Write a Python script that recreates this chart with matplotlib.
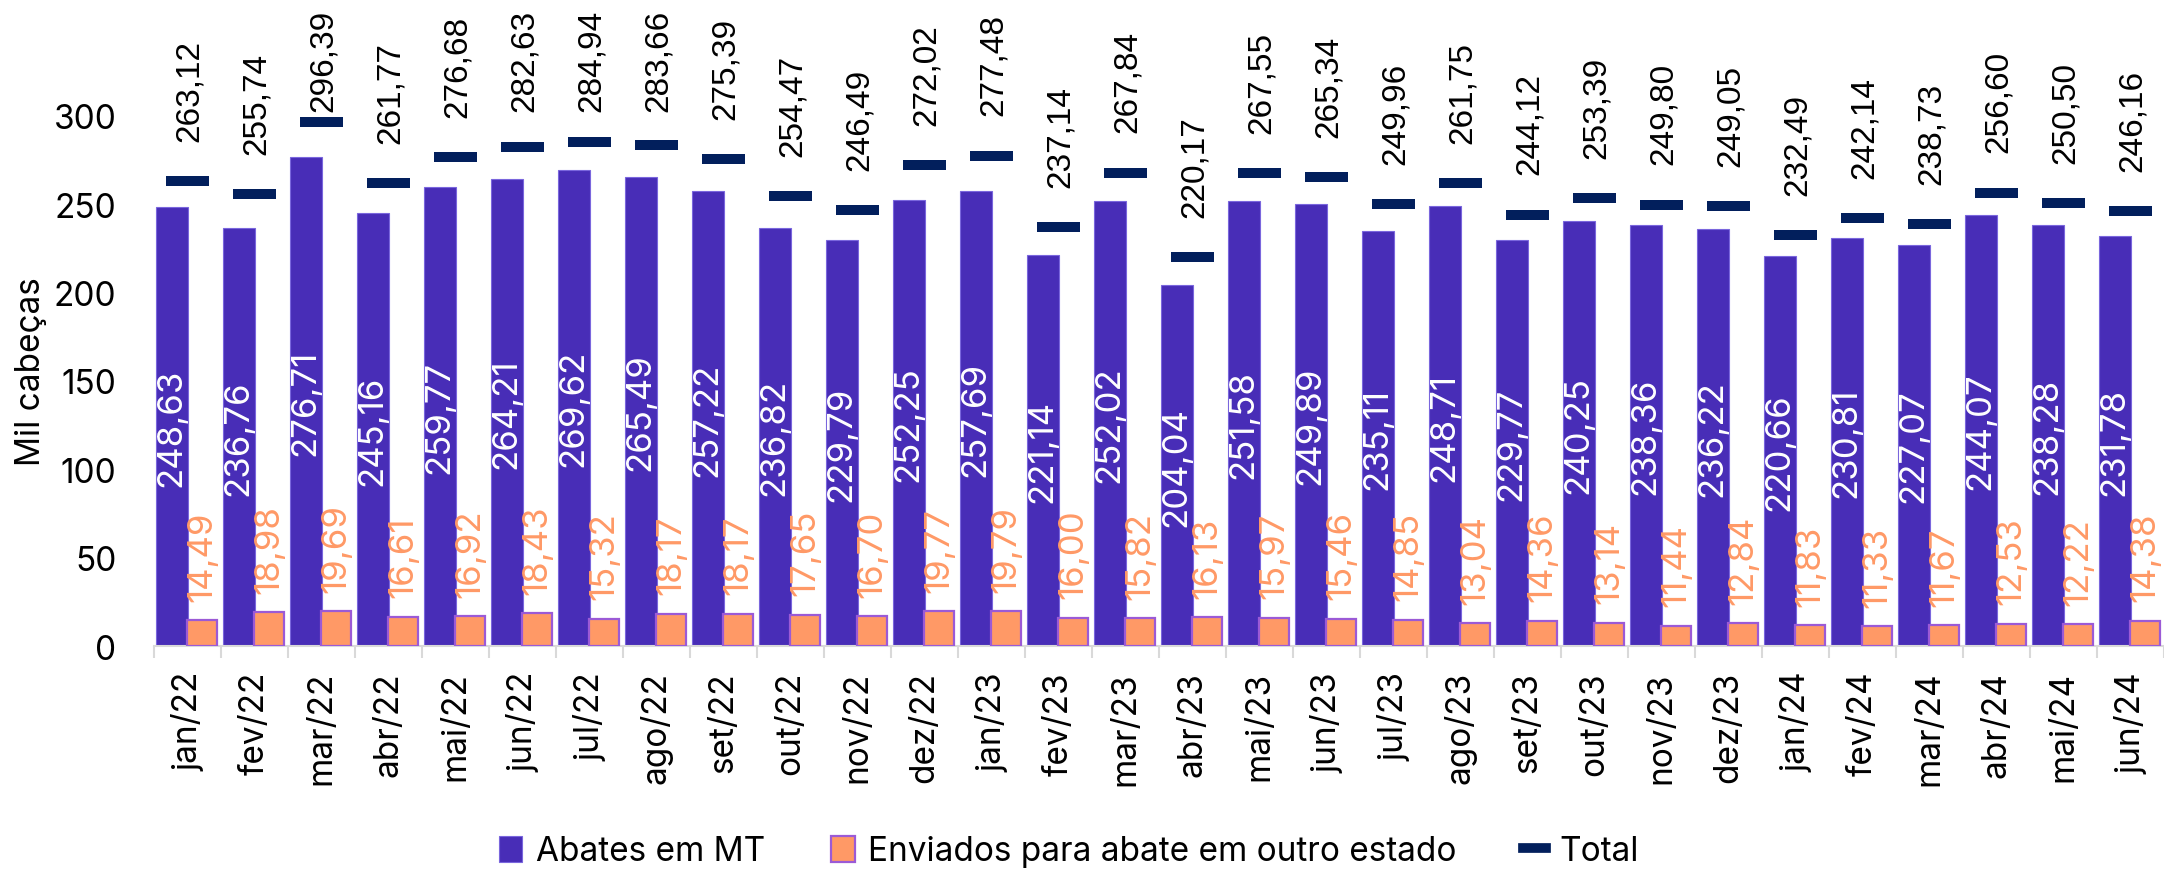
import matplotlib
matplotlib.use("Agg")
import matplotlib.pyplot as plt
from matplotlib.lines import Line2D
import numpy as np

# monthly slaughter figures (thousand head)
months = ["jan/22", "fev/22", "mar/22", "abr/22", "mai/22", "jun/22", "jul/22", "ago/22",
          "set/22", "out/22", "nov/22", "dez/22", "jan/23", "fev/23", "mar/23", "abr/23",
          "mai/23", "jun/23", "jul/23", "ago/23", "set/23", "out/23", "nov/23", "dez/23",
          "jan/24", "fev/24", "mar/24", "abr/24", "mai/24", "jun/24"]
abates_mt = [248.63, 236.76, 276.71, 245.16, 259.77, 264.21, 269.62, 265.49, 257.22, 236.82,
             229.79, 252.25, 257.69, 221.14, 252.02, 204.04, 251.58, 249.89, 235.11, 248.71,
             229.77, 240.25, 238.36, 236.22, 220.66, 230.81, 227.07, 244.07, 238.28, 231.78]
enviados = [14.49, 18.98, 19.69, 16.61, 16.92, 18.43, 15.32, 18.17, 18.17, 17.65,
            16.70, 19.77, 19.79, 16.00, 15.82, 16.13, 15.97, 15.46, 14.85, 13.04,
            14.36, 13.14, 11.44, 12.84, 11.83, 11.33, 11.67, 12.53, 12.22, 14.38]
totais = [263.12, 255.74, 296.39, 261.77, 276.68, 282.63, 284.94, 283.66, 275.39, 254.47,
          246.49, 272.02, 277.48, 237.14, 267.84, 220.17, 267.55, 265.34, 249.96, 261.75,
          244.12, 253.39, 249.80, 249.05, 232.49, 242.14, 238.73, 256.60, 250.50, 246.16]

PURPLE = "#482db7"
ORANGE = "#ff9966"
NAVY = "#021f5c"
GRID = "#d9d9d9"

plt.rcParams["font.family"] = ["Inter", "DejaVu Sans"]


def br(v):
    return f"{v:.2f}".replace(".", ",")


W, H, DPI = 2164, 879, 100
fig = plt.figure(figsize=(W / DPI, H / DPI), dpi=DPI)
ax = fig.add_axes([154 / W, 1 - 647 / H, (W - 154) / W, 618.5 / H])

x = np.arange(len(months))
ax.bar(x - 0.47, abates_mt, width=0.47, align="edge", color=PURPLE,
       edgecolor="#7a66dd", linewidth=0.8, label="Abates em MT", zorder=2)
ax.bar(x - 0.005, enviados, width=0.45, align="edge", color=ORANGE,
       edgecolor="#9b5ad6", linewidth=1.6, label="Enviados para abate em outro estado", zorder=3)
ax.hlines(totais, x - 0.32, x + 0.32, color=NAVY, linewidth=7.2, zorder=4)

fs_val = 25
fs_tick = 24
for xi, a, e in zip(x, abates_mt, enviados):
    ax.text(xi - 0.235, a / 2, br(a), rotation=90, ha="center", va="center",
            color="white", fontsize=fs_val, zorder=5)
    ax.annotate(br(e), (xi + 0.22, e), xytext=(0, 14), textcoords="offset points",
                rotation=90, ha="center", va="bottom", color=ORANGE, fontsize=fs_val,
                zorder=5)

TOT_OFF = 29
tot_labels = []
for xi, t in zip(x, totais):
    tot_labels.append(ax.annotate(br(t), (xi + 0.03, t), xytext=(0, TOT_OFF),
                                  textcoords="offset points", rotation=90,
                                  ha="center", va="bottom", color="black",
                                  fontsize=24, family="Liberation Sans",
                                  annotation_clip=False, zorder=5))

ax.set_xlim(-0.5, -0.5 + (W - 154) / 67.1)
ax.set_ylim(0, 350)
ax.set_yticks([0, 50, 100, 150, 200, 250, 300])
ax.set_xticks(x)
ax.set_xticklabels(months, rotation=90)
ax.set_xticks(np.arange(len(months) + 1) - 0.5, minor=True)
ax.tick_params(axis="x", which="major", length=0, pad=18, labelsize=fs_tick)
ax.tick_params(axis="x", which="minor", length=8.6, width=1.5, color=GRID)
ax.tick_params(axis="y", length=0, pad=27, labelsize=fs_tick)
for side in ("top", "right", "left"):
    ax.spines[side].set_visible(False)
ax.spines["bottom"].set_color(GRID)
ax.spines["bottom"].set_linewidth(1.5)
ax.set_ylabel("Mil cabeças", fontsize=fs_tick)
ax.yaxis.set_label_coords(-0.053, 0.445)

handles, labels = ax.get_legend_handles_labels()
handles.append(Line2D([], [], color=NAVY, linewidth=7))
labels.append("Total")
fig.legend(handles, labels, loc="lower center", bbox_to_anchor=(0.494, -0.022), ncol=3,
           frameon=False, fontsize=fs_tick, handlelength=0.7, handleheight=0.8,
           handletextpad=0.4, columnspacing=2.0)

# keep the total labels inside the canvas (pushed down like the original)
fig.canvas.draw()
renderer = fig.canvas.get_renderer()
for ann in tot_labels:
    bb = ann.get_window_extent(renderer)
    over = bb.y1 - (H - 10)
    if over > 0:
        ann.xyann = (0, TOT_OFF - over * 72 / DPI)

fig.savefig("out.png", dpi=DPI)
